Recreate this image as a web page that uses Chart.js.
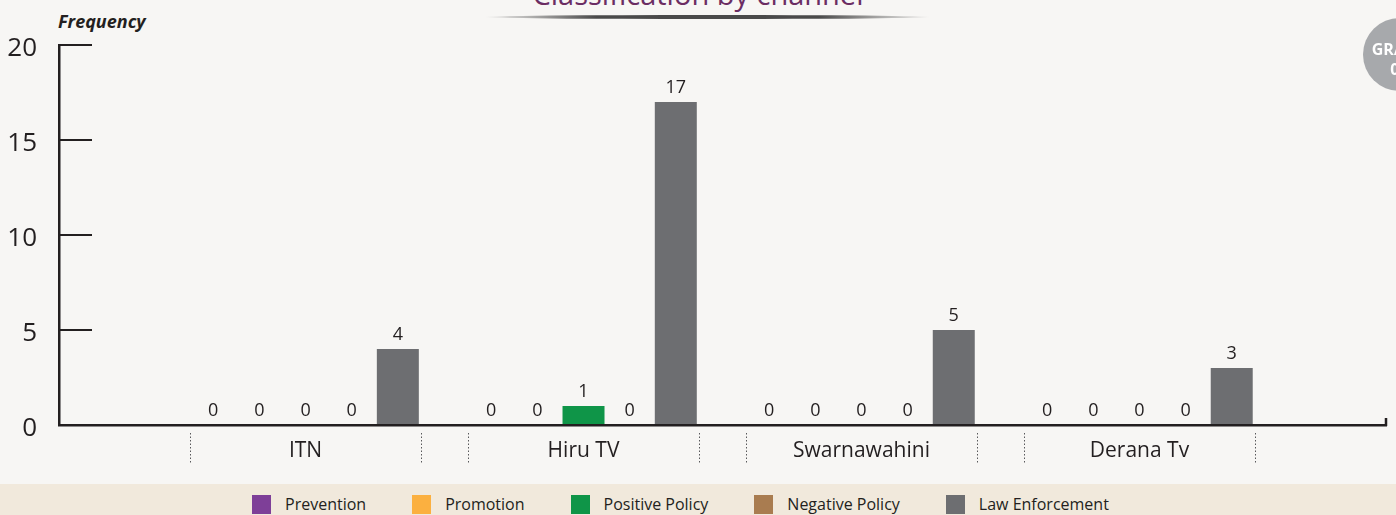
<!DOCTYPE html>
<html>
<head>
<meta charset="utf-8">
<script src="https://cdn.jsdelivr.net/npm/chart.js@4/dist/chart.umd.min.js"></script>
<style>
  body {
    margin: 0;
    width: 1396px;
    height: 515px;
    background: #f7f6f4;
    overflow: hidden;
    position: relative;
    font-family: "Open Sans", sans-serif;
    color: #231f20;
  }
  .title {
    position: absolute;
    top: -21px;
    left: 0;
    width: 1396px;
    text-align: center;
    font-size: 29px;
    line-height: 29px;
    color: #6b2d63;
  }
  .title-rule {
    position: absolute;
    top: 15px;
    left: 485px;
    width: 445px;
    height: 4px;
    border-radius: 50%;
    background: linear-gradient(to right, rgba(70,70,70,0), #4a4a4a 25%, #4a4a4a 75%, rgba(70,70,70,0));
  }
  .y-title {
    position: absolute;
    top: 12px;
    left: 58px;
    font-size: 18px;
    line-height: 18px;
    font-weight: bold;
    font-style: italic;
  }
  .badge {
    position: absolute;
    top: 18px;
    left: 1363px;
    width: 73px;
    height: 73px;
    border-radius: 50%;
    background: #a7a9ac;
    color: #fff;
    font-weight: bold;
    font-size: 16px;
    line-height: 20px;
    text-align: center;
    box-sizing: border-box;
    padding-top: 21px;
  }
  .chart-box {
    position: absolute;
    top: 0;
    left: 0;
    width: 1396px;
    height: 484px;
  }
  .legend {
    position: absolute;
    top: 484px;
    left: 0;
    width: 1396px;
    height: 31px;
    background: #f1e9dc;
    display: flex;
    align-items: flex-start;
    box-sizing: border-box;
    padding-left: 252px;
    padding-top: 11px;
    font-size: 16px;
    line-height: 19px;
  }
  .legend-item { display: flex; align-items: flex-start; margin-right: 46px; }
  .legend-box { width: 19px; height: 19px; margin-right: 14px; }
</style>
</head>
<body>
<div class="title">Classification by channel</div>
<div class="title-rule"></div>
<div class="y-title">Frequency</div>
<div class="chart-box"><canvas id="myChart"></canvas></div>
<div class="badge">GRAPH<br>01</div>
<div class="legend" id="legend"></div>

<script>
// Media coverage classification by TV channel

const channels = ["ITN", "Hiru TV", "Swarnawahini", "Derana Tv"];
const seriesNames = ["Prevention", "Promotion", "Positive Policy", "Negative Policy", "Law Enforcement"];
const prevention = [0, 0, 0, 0];
const promotion = [0, 0, 0, 0];
const positivePolicy = [0, 1, 0, 0];
const negativePolicy = [0, 0, 0, 0];
const lawEnforcement = [4, 17, 5, 3];
const yTicks = [0, 5, 10, 15, 20];

const seriesColors = ["#7e3f98", "#fbb040", "#0f9548", "#a97c50", "#6d6e71"];
const ink = "#231f20";
const catPct = 0.83;
const sidePad = 0.387; // extra room (in categories) at each end of the x axis

const seriesValues = [prevention, promotion, positivePolicy, negativePolicy, lawEnforcement];

// legend below the chart
const legendEl = document.getElementById("legend");
seriesNames.forEach((name, i) => {
  const item = document.createElement("div");
  item.classList.add("legend-item");
  const box = document.createElement("div");
  box.classList.add("legend-box");
  box.style.background = seriesColors[i];
  const label = document.createElement("span");
  label.innerText = name;
  item.appendChild(box);
  item.appendChild(label);
  legendEl.appendChild(item);
});

const extrasPlugin = {
  id: "extras",
  afterDatasetsDraw(chart) {
    const { ctx, chartArea, scales } = chart;
    const x = scales.x;
    const y = scales.y;
    ctx.save();

    // value labels on top of the bars
    ctx.font = '18px "Open Sans"';
    ctx.fillStyle = ink;
    ctx.textAlign = "center";
    ctx.textBaseline = "alphabetic";
    chart.data.datasets.forEach((ds, i) => {
      chart.getDatasetMeta(i).data.forEach((bar, j) => {
        ctx.fillText(ds.data[j], bar.x, y.getPixelForValue(ds.data[j]) - 9);
      });
    });

    // dotted separators around each channel group
    const catW = x.getPixelForValue(1) - x.getPixelForValue(0);
    const half = (catW * catPct) / 2;
    ctx.strokeStyle = "#58595b";
    ctx.lineWidth = 1;
    ctx.setLineDash([1.5, 2]);
    channels.forEach((c, i) => {
      const cx = x.getPixelForValue(i);
      [cx - half, cx + half].forEach((px) => {
        const sx = Math.round(px) + 0.5;
        ctx.beginPath();
        ctx.moveTo(sx, chartArea.bottom + 8);
        ctx.lineTo(sx, chartArea.bottom + 38);
        ctx.stroke();
      });
    });

    // small upturn at the end of the x axis
    ctx.setLineDash([]);
    ctx.strokeStyle = ink;
    ctx.lineWidth = 2.5;
    ctx.beginPath();
    ctx.moveTo(chartArea.right, chartArea.bottom + 1);
    ctx.lineTo(chartArea.right, chartArea.bottom - 7);
    ctx.stroke();
    ctx.restore();
  },
};

const ctx = document.getElementById("myChart");

new Chart(ctx, {
  type: "bar",
  data: {
    labels: channels,
    datasets: seriesNames.map((name, i) => ({
      label: name,
      data: seriesValues[i],
      backgroundColor: seriesColors[i],
      borderWidth: 0,
      minBarLength: 1,
      categoryPercentage: catPct,
      barPercentage: 0.91,
    })),
  },
  options: {
    responsive: true,
    maintainAspectRatio: false,
    animation: false,
    layout: { padding: { top: 45, right: 10, left: 0, bottom: 0 } },
    plugins: {
      legend: { display: false },
      tooltip: { enabled: false },
    },
    scales: {
      x: {
        offset: true,
        afterBuildTicks(scale) {
          scale._startValue -= sidePad;
          scale._valueRange += 2 * sidePad;
        },
        afterFit(scale) {
          scale.height = 59;
          scale.paddingLeft = 0;
          scale.paddingRight = 0;
        },
        grid: { display: false },
        border: { color: ink, width: 2.5 },
        ticks: {
          color: ink,
          padding: 5,
          font: { family: "Open Sans", size: 21 },
        },
      },
      y: {
        min: 0,
        max: 20,
        afterBuildTicks(scale) {
          scale.ticks = yTicks.map((v) => ({ value: v }));
        },
        afterFit(scale) {
          scale.width = 59;
          scale.paddingTop = 0;
          scale.paddingBottom = 0;
        },
        grid: {
          drawOnChartArea: false,
          tickLength: -33,
          color: ink,
          lineWidth: 2,
        },
        border: { color: ink, width: 2.5 },
        ticks: {
          color: ink,
          padding: 55,
          labelOffset: 4,
          font: { family: "Open Sans", size: 26 },
        },
      },
    },
  },
  plugins: [extrasPlugin],
});
</script>
</body>
</html>
